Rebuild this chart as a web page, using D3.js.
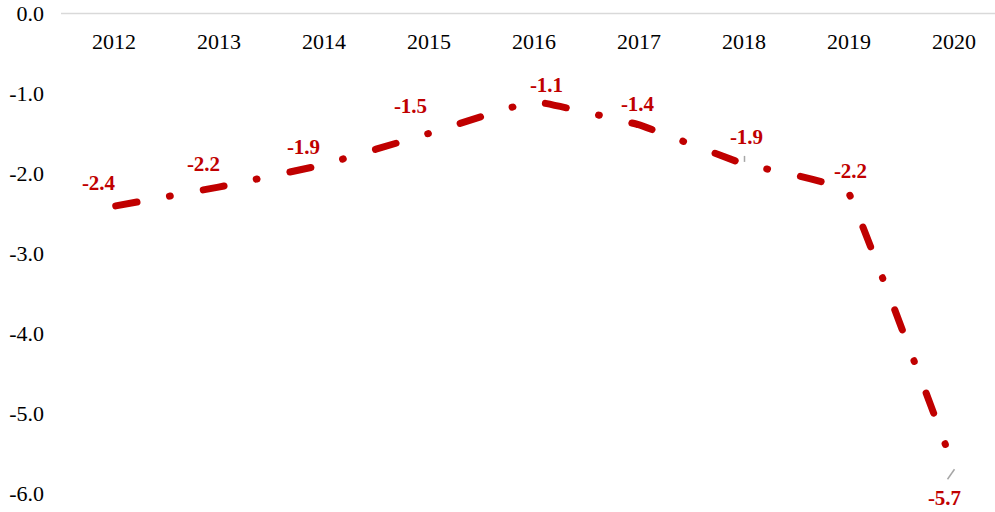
<!DOCTYPE html>
<html>
<head>
<meta charset="utf-8">
<script src="https://cdn.jsdelivr.net/npm/d3@7"></script>
<style>
  body { margin: 0; background: #fff; }
  .tick text { font-family: "Liberation Serif", "Times New Roman", serif; }
  .label { font-family: "Liberation Serif", "Times New Roman", serif; font-weight: bold; fill: #c00000; }
</style>
</head>
<body>
<div id="chart"></div>
<script>
var years  = ["2012", "2013", "2014", "2015", "2016", "2017", "2018", "2019", "2020"]
var values = [-2.41, -2.17, -1.89, -1.5, -1.1, -1.39, -1.88, -2.24, -5.66]
var yTicks = [0, -1, -2, -3, -4, -5, -6]

// label placement relative to the point: [dx, dy]
var labelOffsets = [[-15, -16], [-15, -16], [-20, -11], [-18, -21], [13, -10],
                    [-1, -14], [3, -20], [2, -15], [-9, 39]]
// leader lines for labels pulled off their points: index, [x1, y1, x2, y2] relative to point
var leaders = [[6, [1, -8, 1, -2]], [8, [1, 3, -6, 13]]]

var width = 995, height = 512

var svg = d3.select("#chart").append("svg")
  .attr("width", width)
  .attr("height", height)

var x = d3.scalePoint()
  .domain(years)
  .range([61, 1006])
  .padding(0.5)

var y = d3.scaleLinear()
  .domain([-6, 0])
  .range([493.5, 13.5])

var fmt = d => d.toFixed(1)

// category axis sits on the zero line at the top
svg.append("line")
  .attr("x1", 61).attr("x2", width)
  .attr("y1", y(0)).attr("y2", y(0))
  .attr("stroke", "#d9d9d9")
  .attr("stroke-width", 1.5)

var xAxis = svg.append("g")
  .attr("transform", "translate(0," + y(0) + ")")
  .call(d3.axisBottom(x).tickSize(0).tickPadding(20))
xAxis.select(".domain").remove()
xAxis.selectAll("text").attr("font-size", 22).attr("fill", "#000")

var yAxis = svg.append("g")
  .attr("transform", "translate(44,0)")
  .call(d3.axisLeft(y).tickValues(yTicks).tickSize(0).tickPadding(0).tickFormat(fmt))
yAxis.select(".domain").remove()
yAxis.selectAll("text").attr("font-size", 22).attr("fill", "#000")

var data = years.map((yr, i) => ({ year: yr, value: values[i] }))

var line = d3.line()
  .x(d => x(d.year))
  .y(d => y(d.value))
  .curve(d3.curveCardinal.tension(0.8))

svg.append("path")
  .datum(data)
  .attr("fill", "none")
  .attr("stroke", "#c00000")
  .attr("stroke-width", 7)
  .attr("stroke-linecap", "round")
  .attr("stroke-linejoin", "round")
  .attr("stroke-dasharray", "21.4,32.9,0.8,33.5")
  .attr("stroke-dashoffset", -2.5)
  .attr("d", line)

leaders.forEach(l => {
  var i = l[0], o = l[1]
  var px = x(years[i]), py = y(values[i])
  svg.append("line")
    .attr("x1", px + o[0]).attr("y1", py + o[1])
    .attr("x2", px + o[2]).attr("y2", py + o[3])
    .attr("stroke", "#a6a6a6")
    .attr("stroke-width", 1.5)
})

svg.append("g").selectAll("text")
  .data(data)
  .join("text")
  .attr("class", "label")
  .attr("x", (d, i) => x(d.year) + labelOffsets[i][0])
  .attr("y", (d, i) => y(d.value) + labelOffsets[i][1])
  .attr("text-anchor", "middle")
  .attr("font-size", 21)
  .text(d => fmt(d.value))
</script>
</body>
</html>
